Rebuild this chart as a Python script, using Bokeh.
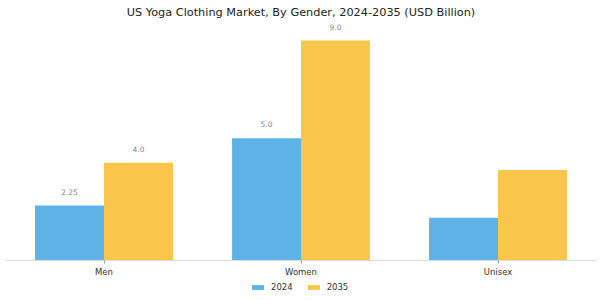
from bokeh.plotting import figure
from bokeh.models import ColumnDataSource, Range1d, FactorRange, Legend, LegendItem
from bokeh.layouts import column
from bokeh.transform import dodge
from bokeh.core.properties import value
from bokeh.embed import file_html
from bokeh.resources import INLINE

categories = ["Men", "Women", "Unisex"]
values_2024 = [2.25, 5.0, 1.75]
values_2035 = [4.0, 9.0, 3.7]
labels_2024 = ["2.25", "5.0", ""]
labels_2035 = ["4.0", "9.0", ""]
series_names = ["2024", "2035"]
colors = ["#5DB3E6", "#F9C54A"]

src = ColumnDataSource(dict(cat=categories, v24=values_2024, v35=values_2035,
                            l24=labels_2024, l35=labels_2035))

p = figure(width=600, height=280, output_backend="svg", toolbar_location=None,
           x_range=FactorRange(*categories, range_padding=0),
           y_range=Range1d(0, 9.86),
           min_border_left=5, min_border_right=4, min_border_top=19, min_border_bottom=20)
p.title.text = "US Yoga Clothing Market, By Gender, 2024-2035 (USD Billion)"
p.title.align = "center"
p.title.text_font = "DejaVu Sans"
p.title.text_font_size = "11.3px"
p.title.text_font_style = "normal"
p.title.text_color = "#222222"
p.title.standoff = 1

r1 = p.vbar(x=dodge("cat", -0.175, range=p.x_range), top="v24", width=0.35, source=src,
            fill_color=colors[0], line_color=None)
r2 = p.vbar(x=dodge("cat", 0.175, range=p.x_range), top="v35", width=0.35, source=src,
            fill_color=colors[1], line_color=None)

for col, lab, off in (("v24", "l24", -0.175), ("v35", "l35", 0.175)):
    p.text(x=dodge("cat", off, range=p.x_range), y=col, text=lab, source=src,
           y_offset=-14, text_align="center", text_baseline="middle",
           text_font=value("DejaVu Sans"), text_font_size="7.5px", text_color="#888888")

p.yaxis.visible = False
p.xgrid.grid_line_color = None
p.ygrid.grid_line_color = None
p.outline_line_color = None
p.xaxis.axis_line_color = "#dddddd"
p.xaxis.major_tick_line_color = "#999999"
p.xaxis.major_tick_out = 3
p.xaxis.major_tick_in = 0
p.xaxis.minor_tick_line_color = None
p.xaxis.major_label_text_font = "DejaVu Sans"
p.xaxis.major_label_text_font_size = "8.5px"
p.xaxis.major_label_text_color = "#333333"
p.xaxis.major_label_standoff = 3

# legend strip below the chart (its bars sit outside its visible y-range)
lg = figure(width=600, height=20, output_backend="svg", toolbar_location=None,
            x_range=p.x_range, y_range=Range1d(100, 101), min_border=0)
lg.axis.visible = False
lg.grid.grid_line_color = None
lg.outline_line_color = None
e1 = lg.vbar(x=dodge("cat", -0.175, range=lg.x_range), top="v24", width=0.35, source=src,
             fill_color=colors[0], line_color=None)
e2 = lg.vbar(x=dodge("cat", 0.175, range=lg.x_range), top="v35", width=0.35, source=src,
             fill_color=colors[1], line_color=None)
legend = Legend(items=[LegendItem(label=series_names[0], renderers=[e1]),
                       LegendItem(label=series_names[1], renderers=[e2])],
                orientation="horizontal", location=(245, 8),
                glyph_width=15, glyph_height=6, label_height=10, label_standoff=6,
                spacing=13, padding=0, margin=0, border_line_color=None,
                background_fill_alpha=0,
                label_text_font="DejaVu Sans", label_text_font_size="8.5px",
                label_text_color="#333333")
lg.add_layout(legend)

layout = column(p, lg, spacing=0)
open("out.html", "w").write(file_html(layout, INLINE))
